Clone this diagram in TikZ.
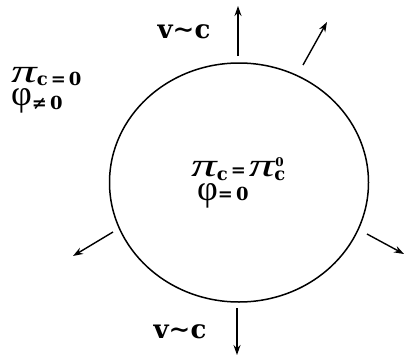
\documentclass[tikz,border=0pt]{standalone}
\usepackage{fontspec}
\setmainfont{Liberation Serif}
\newfontfamily\heavy{DejaVu Serif}[BoldFont={DejaVu Serif Bold}]
\usepackage{graphicx}
\usetikzlibrary{arrows.meta,shapes.geometric}
\newcommand{\bigpi}{{\fontsize{33}{35}\selectfont\itshape\scalebox{1.55}[1]{π}}}
\newcommand{\bigphi}{{\fontsize{36}{38}\selectfont φ}}
\newcommand{\smb}[1]{{\heavy\bfseries\fontsize{18}{20}\selectfont #1}}
\begin{document}
\begin{tikzpicture}[x=1pt,y=-1pt,
  emit/.style={-{Stealth[length=10pt,width=7pt]},line width=1.4pt},
  lab/.style={font=\heavy\bfseries\fontsize{26}{28}\selectfont,inner sep=0pt}]
\useasboundingbox (0,0) rectangle (404,356);
\node[ellipse,draw,line width=1.5pt,minimum width=259pt,minimum height=239pt,inner sep=0pt] (blob) at (239,182.5) {};
% arrows
\coordinate (t1) at (238,56); \coordinate (h1) at (238,6);
\coordinate (t2) at (303,65); \coordinate (h2) at (327,22);
\coordinate (t3) at (113,232); \coordinate (h3) at (73,256);
\coordinate (t4) at (367,234); \coordinate (h4) at (404,254);
\coordinate (t5) at (237,308); \coordinate (h5) at (237,355);
\draw[emit] (t1) -- (h1);
\draw[emit] (t2) -- (h2);
\draw[emit] (t3) -- (h3);
\draw[emit] (t4) -- (h4);
\draw[emit] (t5) -- (h5);
% labels
\node[lab,anchor=base] (v1) at (184,38) {v∼c};
\node[lab,anchor=base] (v2) at (180,338) {v∼c};
\node[anchor=base west,inner sep=0pt] (pl) at (11,82) {\bigpi\smb{\raisebox{-3pt}{c\,=\,0}}};
\node[anchor=base west,inner sep=0pt] (fl) at (11,105) {\bigphi\smb{\raisebox{-4pt}{≠\,0}}};
\node[anchor=base west,inner sep=0pt] (pc) at (191,176) {\bigpi\smb{\raisebox{-4pt}{c}\,=\,}\bigpi\smb{\raisebox{-4pt}{c}\hspace{-10pt}\raisebox{10pt}{\fontsize{12}{14}\selectfont 0}}};
\node[anchor=base west,inner sep=0pt] (fc) at (197,200) {\bigphi\smb{=\,0}};
\end{tikzpicture}
\end{document}
